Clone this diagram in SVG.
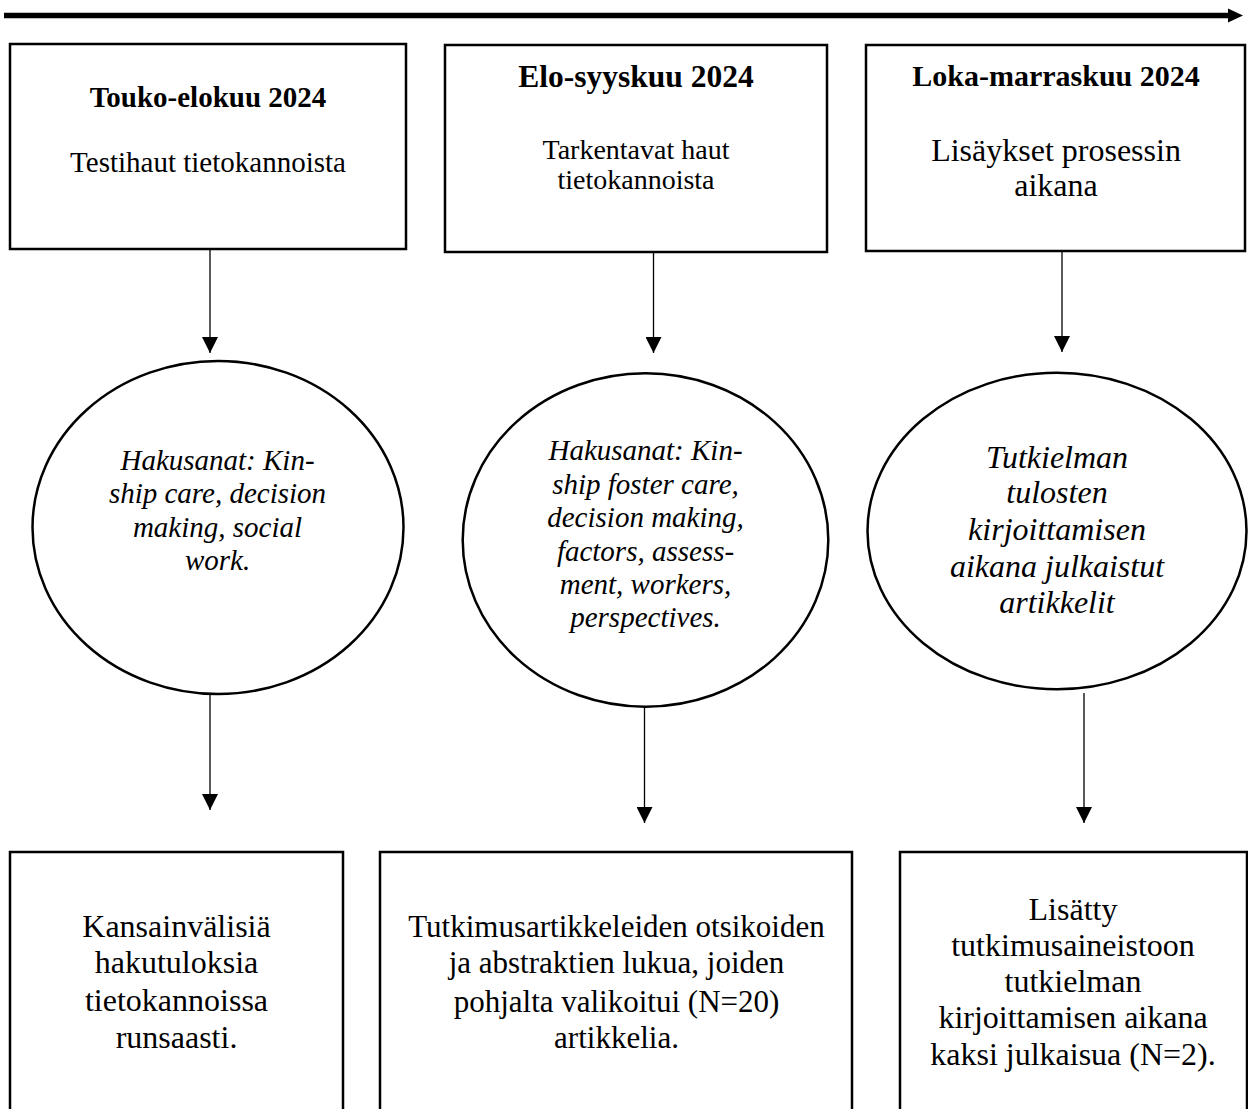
<svg xmlns="http://www.w3.org/2000/svg" width="1248" height="1109" viewBox="0 0 1248 1109">
<style>
.box{fill:#fff;stroke:#000;stroke-width:2.5}
.ell{fill:#fff;stroke:#000;stroke-width:2.5}
.con{stroke:#000;stroke-width:1.3;fill:none}
text{font-family:"Liberation Serif","Times New Roman",serif;fill:#000;text-anchor:middle}
.b{font-weight:bold}
.i{font-style:italic}
</style>
<defs>
<marker id="ah" markerWidth="16" markerHeight="16" viewBox="0 0 16 16" refX="16" refY="8" orient="auto" markerUnits="userSpaceOnUse">
<path d="M0,0 L16,8 L0,16 Z" fill="#000"/>
</marker>
</defs>
<rect width="1248" height="1109" fill="#fff"/>
<g id="timeline">
<line x1="4" y1="15.5" x2="1230" y2="15.5" stroke="#000" stroke-width="5.5"/>
<path d="M1228,8.5 L1243,15.5 L1228,22.5 Z" fill="#000"/>
</g>
<g id="connectors">
<line class="con" x1="210" y1="249" x2="210" y2="353" marker-end="url(#ah)"/>
<line class="con" x1="210" y1="692" x2="210" y2="810" marker-end="url(#ah)"/>
<line class="con" x1="653.5" y1="252" x2="653.5" y2="353" marker-end="url(#ah)"/>
<line class="con" x1="644.5" y1="692" x2="644.5" y2="823" marker-end="url(#ah)"/>
<line class="con" x1="1062" y1="251" x2="1062" y2="352" marker-end="url(#ah)"/>
<line class="con" x1="1084" y1="693" x2="1084" y2="823" marker-end="url(#ah)"/>
</g>
<g id="box1">
<rect class="box" x="10" y="44" width="396" height="205"/>
<text class="b" x="208" y="107" font-size="29">Touko-elokuu 2024</text>
<text x="208" y="172" font-size="29">Testihaut tietokannoista</text>
</g>
<g id="box2">
<rect class="box" x="445" y="45" width="382" height="207"/>
<text class="b" x="636" y="87" font-size="31.5">Elo-syyskuu 2024</text>
<text x="636" y="159" font-size="28">Tarkentavat haut</text>
<text x="636" y="189" font-size="28">tietokannoista</text>
</g>
<g id="box3">
<rect class="box" x="866" y="45" width="379" height="206"/>
<text class="b" x="1056" y="86" font-size="30">Loka-marraskuu 2024</text>
<text x="1056" y="161" font-size="32">Lisäykset prosessin</text>
<text x="1056" y="196" font-size="32">aikana</text>
</g>
<g id="ellipse1">
<ellipse class="ell" cx="218" cy="527.5" rx="185.5" ry="166.5"/>
<text class="i" font-size="29"><tspan x="217.5" y="470">Hakusanat: Kin-</tspan><tspan x="217.5" y="503">ship care, decision</tspan><tspan x="217.5" y="537">making, social</tspan><tspan x="217.5" y="570">work.</tspan></text>
</g>
<g id="ellipse2">
<ellipse class="ell" cx="645.5" cy="540" rx="182.8" ry="166.7"/>
<text class="i" font-size="29"><tspan x="645.5" y="460">Hakusanat: Kin-</tspan><tspan x="645.5" y="494">ship foster care,</tspan><tspan x="645.5" y="527">decision making,</tspan><tspan x="645.5" y="561">factors, assess-</tspan><tspan x="645.5" y="594">ment, workers,</tspan><tspan x="645.5" y="627">perspectives.</tspan></text>
</g>
<g id="ellipse3">
<ellipse class="ell" cx="1057" cy="531" rx="189.5" ry="158.3"/>
<text class="i" font-size="32"><tspan x="1057" y="468">Tutkielman</tspan><tspan x="1057" y="503">tulosten</tspan><tspan x="1057" y="540">kirjoittamisen</tspan><tspan x="1057" y="577">aikana julkaistut</tspan><tspan x="1057" y="613">artikkelit</tspan></text>
</g>
<g id="box4">
<rect class="box" x="10" y="852" width="333" height="270"/>
<text font-size="32"><tspan x="176.5" y="937">Kansainvälisiä</tspan><tspan x="176.5" y="973">hakutuloksia</tspan><tspan x="176.5" y="1011">tietokannoissa</tspan><tspan x="176.5" y="1048">runsaasti.</tspan></text>
</g>
<g id="box5">
<rect class="box" x="380" y="852" width="472" height="270"/>
<text font-size="31"><tspan x="616.5" y="937">Tutkimusartikkeleiden otsikoiden</tspan><tspan x="616.5" y="973">ja abstraktien lukua, joiden</tspan><tspan x="616.5" y="1012">pohjalta valikoitui (N=20)</tspan><tspan x="616.5" y="1048">artikkelia.</tspan></text>
</g>
<g id="box6">
<rect class="box" x="900" y="852" width="347" height="270"/>
<text font-size="32"><tspan x="1073" y="920">Lisätty</tspan><tspan x="1073" y="956">tutkimusaineistoon</tspan><tspan x="1073" y="992">tutkielman</tspan><tspan x="1073" y="1028">kirjoittamisen aikana</tspan><tspan x="1073" y="1065">kaksi julkaisua (N=2).</tspan></text>
</g>
</svg>
